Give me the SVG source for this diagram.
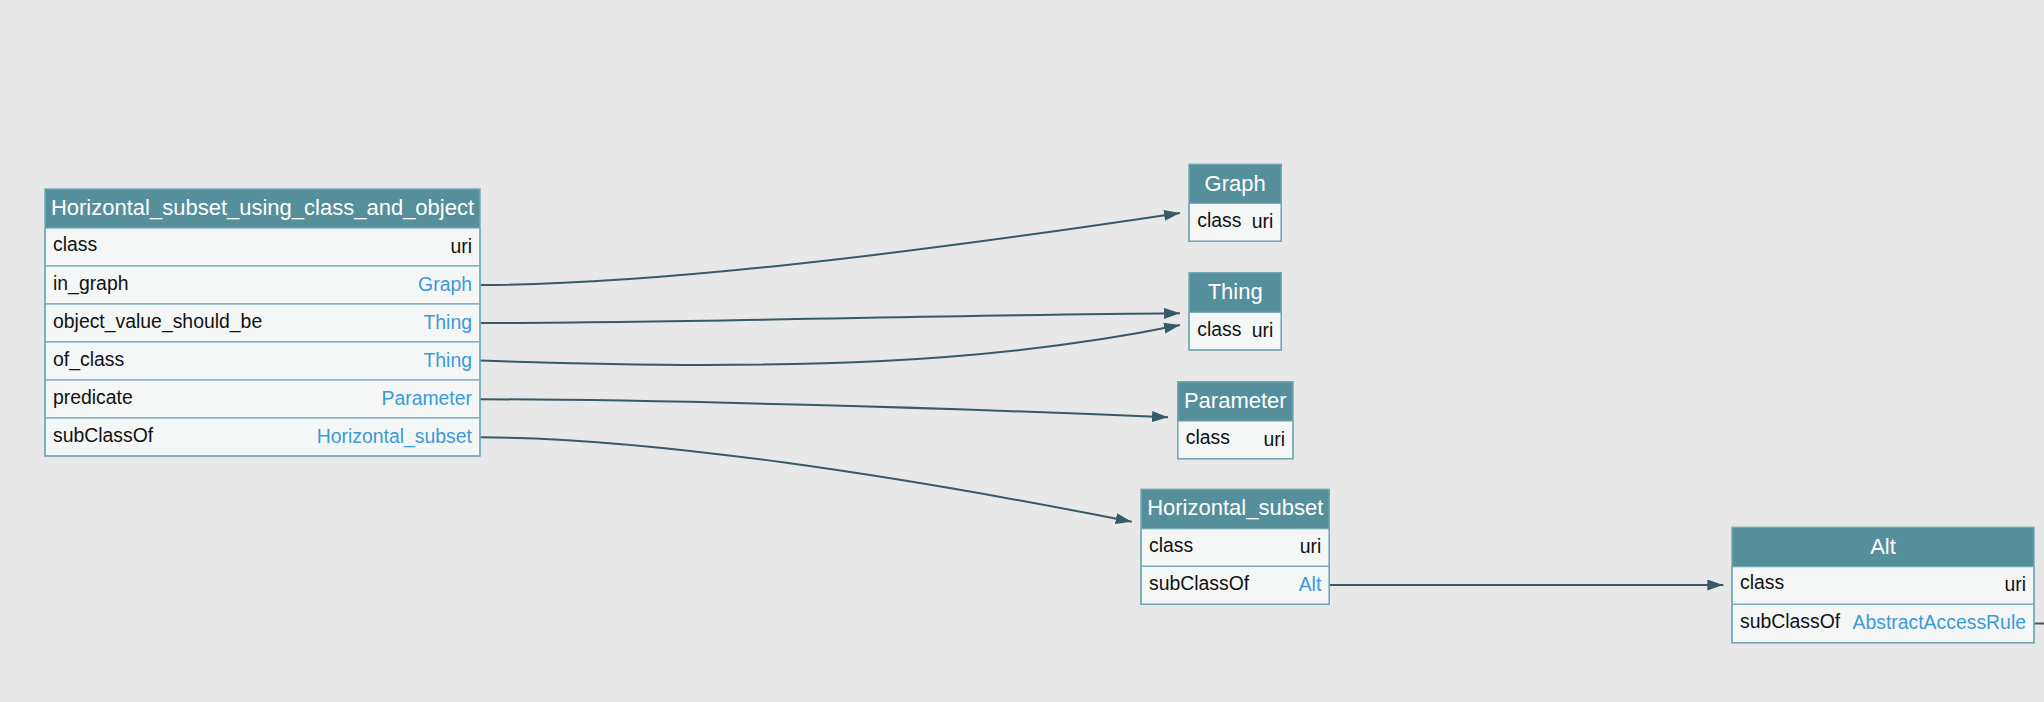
<svg xmlns="http://www.w3.org/2000/svg" width="2044" height="702" viewBox="0 0 2044 702">
  <defs>
    <marker id="arrow" viewBox="0 0 16 11" refX="16" refY="5.5" markerWidth="16" markerHeight="11" markerUnits="userSpaceOnUse" orient="auto">
      <path d="M0,0 L16,5.5 L0,11 Z" fill="#365a67"/>
    </marker>
    <style>
      .bg { fill: #e8e8e8; }
      .hdr { fill: #558f9c; }
      .row { fill: #f5f7f7; stroke: #74a7b5; stroke-width: 1.2; }
      .frame { fill: none; stroke: #74a7b5; stroke-width: 1.4; }
      .title { font-family: "Liberation Sans", Arial, sans-serif; font-size: 22px; fill: #ffffff; text-anchor: middle; }
      .key { font-family: "Liberation Sans", Arial, sans-serif; font-size: 19.4px; fill: #111111; }
      .val { font-family: "Liberation Sans", Arial, sans-serif; font-size: 19.4px; fill: #111111; text-anchor: end; }
      .link { fill: #3a9ad9; }
      .edge { fill: none; stroke: #365a67; stroke-width: 2; }
    </style>
  </defs>

  <rect class="bg" x="0" y="0" width="2044" height="702"/>

  <!-- connectors -->
  <g id="edges">
    <path class="edge" d="M480,285 C650,285 900,255 1180,213" marker-end="url(#arrow)"/>
    <path class="edge" d="M480,323 C700,322.5 950,315 1180,313.3" marker-end="url(#arrow)"/>
    <path class="edge" d="M480,360.5 C800,372 1000,362 1180,325" marker-end="url(#arrow)"/>
    <path class="edge" d="M480,399.3 C650,399.3 950,408 1168,417.3" marker-end="url(#arrow)"/>
    <path class="edge" d="M480,437.3 C650,437.3 900,476 1131.7,521.7" marker-end="url(#arrow)"/>
    <path class="edge" d="M1330,585 L1723.3,585" marker-end="url(#arrow)"/>
    <path class="edge" d="M2034,623.5 L2044,623.5"/>
  </g>

  <!-- Horizontal_subset_using_class_and_object -->
  <g id="node-horizontal-subset-using-class-and-object">
    <rect class="hdr" x="45" y="189" width="435" height="39"/>
    <text class="title" x="262.5" y="214.5">Horizontal_subset_using_class_and_object</text>
    <rect class="row" x="45" y="228" width="435" height="38"/>
    <rect class="row" x="45" y="266" width="435" height="38"/>
    <rect class="row" x="45" y="304" width="435" height="38"/>
    <rect class="row" x="45" y="342" width="435" height="38"/>
    <rect class="row" x="45" y="380" width="435" height="38"/>
    <rect class="row" x="45" y="418" width="435" height="38"/>
    <rect class="frame" x="45" y="189" width="435" height="267"/>
    <text class="key" x="53" y="251">class</text>
    <text class="val" x="472" y="252.7">uri</text>
    <text class="key" x="53" y="289.5">in_graph</text>
    <text class="val link" x="472" y="291">Graph</text>
    <text class="key" x="53" y="327.5">object_value_should_be</text>
    <text class="val link" x="472" y="329">Thing</text>
    <text class="key" x="53" y="365.5">of_class</text>
    <text class="val link" x="472" y="367">Thing</text>
    <text class="key" x="53" y="403.5">predicate</text>
    <text class="val link" x="472" y="405">Parameter</text>
    <text class="key" x="53" y="441.5">subClassOf</text>
    <text class="val link" x="472" y="443">Horizontal_subset</text>
  </g>

  <!-- Graph -->
  <g id="node-graph">
    <rect class="hdr" x="1189" y="164.3" width="92.3" height="39"/>
    <text class="title" x="1235.2" y="190.5">Graph</text>
    <rect class="row" x="1189" y="203.3" width="92.3" height="38"/>
    <rect class="frame" x="1189" y="164.3" width="92.3" height="77"/>
    <text class="key" x="1197.3" y="226.5">class</text>
    <text class="val" x="1273.3" y="228">uri</text>
  </g>

  <!-- Thing -->
  <g id="node-thing">
    <rect class="hdr" x="1189" y="272.7" width="92.3" height="39.6"/>
    <text class="title" x="1235.2" y="299">Thing</text>
    <rect class="row" x="1189" y="312.3" width="92.3" height="37.7"/>
    <rect class="frame" x="1189" y="272.7" width="92.3" height="77.3"/>
    <text class="key" x="1197.3" y="335.5">class</text>
    <text class="val" x="1273.3" y="337">uri</text>
  </g>

  <!-- Parameter -->
  <g id="node-parameter">
    <rect class="hdr" x="1177.7" y="381.7" width="115.3" height="39.3"/>
    <text class="title" x="1235.3" y="407.5">Parameter</text>
    <rect class="row" x="1177.7" y="421" width="115.3" height="37.7"/>
    <rect class="frame" x="1177.7" y="381.7" width="115.3" height="77"/>
    <text class="key" x="1185.7" y="444">class</text>
    <text class="val" x="1285" y="445.5">uri</text>
  </g>

  <!-- Horizontal_subset -->
  <g id="node-horizontal-subset">
    <rect class="hdr" x="1141" y="489.3" width="188.3" height="39.4"/>
    <text class="title" x="1235.2" y="515">Horizontal_subset</text>
    <rect class="row" x="1141" y="528.7" width="188.3" height="37.6"/>
    <rect class="row" x="1141" y="566.3" width="188.3" height="38"/>
    <rect class="frame" x="1141" y="489.3" width="188.3" height="115"/>
    <text class="key" x="1149" y="551.5">class</text>
    <text class="val" x="1321.3" y="553">uri</text>
    <text class="key" x="1149" y="589.5">subClassOf</text>
    <text class="val link" x="1321.3" y="591">Alt</text>
  </g>

  <!-- Alt -->
  <g id="node-alt">
    <rect class="hdr" x="1732" y="527.3" width="302" height="39.4"/>
    <text class="title" x="1883" y="554">Alt</text>
    <rect class="row" x="1732" y="566.7" width="302" height="37.6"/>
    <rect class="row" x="1732" y="604.3" width="302" height="38.4"/>
    <rect class="frame" x="1732" y="527.3" width="302" height="115.4"/>
    <text class="key" x="1740" y="589">class</text>
    <text class="val" x="2026" y="590.5">uri</text>
    <text class="key" x="1740" y="627.5">subClassOf</text>
    <text class="val link" x="2026" y="629">AbstractAccessRule</text>
  </g>
</svg>
